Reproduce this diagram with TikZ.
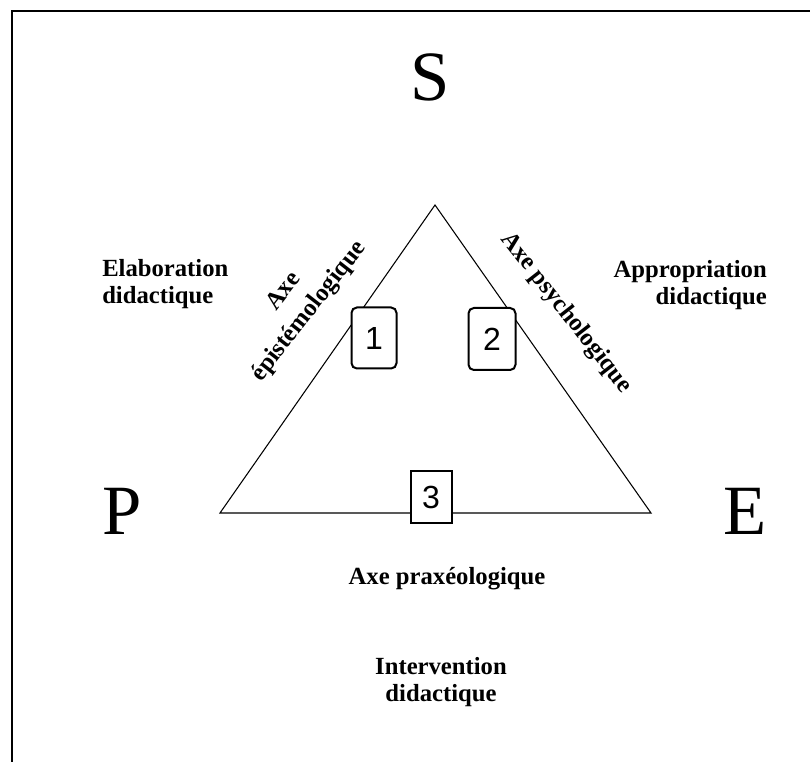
\documentclass[tikz,border=0pt]{standalone}
\usepackage{fontspec}
\setmainfont{Liberation Serif}
\newfontfamily\numfont{Liberation Sans}
\tikzset{
  pole/.style={font=\fontsize{53}{60}\selectfont, inner sep=0pt},
  axis/.style={font=\bfseries\fontsize{18.5}{20.5}\selectfont, inner sep=0pt, align=center},
  numbox/.style={draw, fill=white, line width=1.5pt, font=\numfont\fontsize{24}{26}\selectfont, inner sep=0pt}
}
\begin{document}
\begin{tikzpicture}[x=0.75pt,y=-0.75pt]
\useasboundingbox (0,0) rectangle (810,762);
\def\sx{435}\def\sy{205}
\def\px{220}\def\py{513}
\def\ex{651}\def\ey{513}
\draw[line width=1.5pt] (12,762) -- (12,11) -- (810,11);
\coordinate (s) at (\sx,\sy);
\coordinate (p) at (\px,\py);
\coordinate (e) at (\ex,\ey);
\draw[line width=0.8pt] (s) -- (p) -- (e) -- cycle;
\node[pole] (S) at (430,77) {S};
\node[pole] (P) at (122,511) {P};
\node[pole] (E) at (745,511) {E};
\node[axis, align=left, anchor=west] (elab) at (102,284) {Elaboration\\didactique};
\node[axis, align=right, anchor=east] (appr) at (767,285) {Appropriation\\didactique};
\node[axis] (praxeo) at (447,579) {Axe praxéologique};
\node[axis] (interv) at (441,682) {Intervention\\didactique};
\node[axis, rotate=52, font=\bfseries\fontsize{18.5}{24}\selectfont] (episte) at (297,302) {Axe\\épistémologique};
\node[axis, rotate=-52] (psycho) at (566,313) {Axe psychologique};
\node[numbox, rounded corners=4pt, minimum width=45*0.75pt, minimum height=61*0.75pt] (b1) at (374,338) {1};
\node[numbox, rounded corners=4pt, minimum width=47*0.75pt, minimum height=62*0.75pt] (b2) at (492,339) {2};
\node[numbox, minimum width=41*0.75pt, minimum height=52*0.75pt] (b3) at (431,497) {3};
\end{tikzpicture}
\end{document}
